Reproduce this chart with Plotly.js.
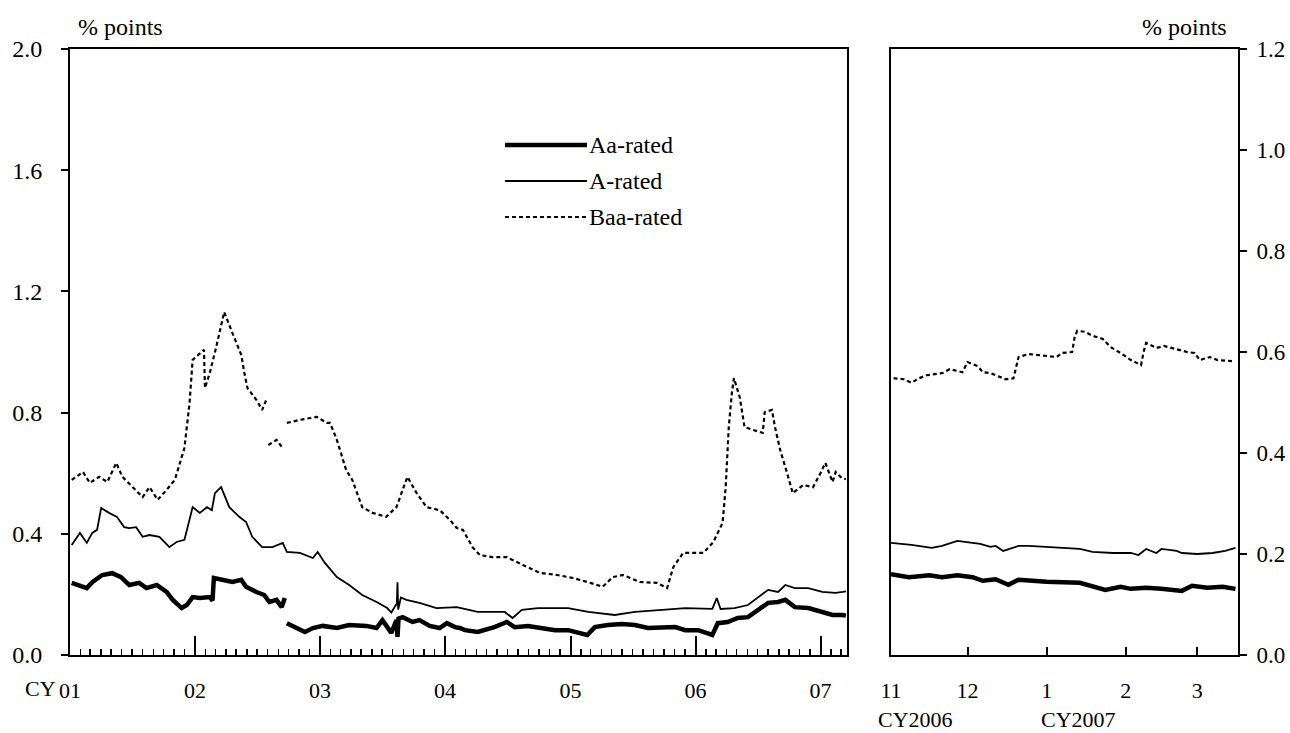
<!DOCTYPE html>
<html>
<head>
<meta charset="utf-8">
<script src="https://cdn.plot.ly/plotly-3.0.1.min.js"></script>
<style>html,body{margin:0;padding:0;background:#fff;}#chart{width:1290px;height:733px;}</style>
</head>
<body>
<div id="chart"></div>
<script>
// ---------------- DATA ----------------
const seriesNames = ["Aa-rated", "A-rated", "Baa-rated"];

// Left panel: CY2001 - March 2007 (% points)
const aaLeftDates = ['2001-01-06','2001-02-19','2001-03-07','2001-04-05','2001-05-04','2001-05-30','2001-06-23','2001-07-22','2001-08-12','2001-09-11','2001-10-10','2001-10-28','2001-11-23','2001-12-08','2001-12-25','2002-01-15','2002-02-13','2002-02-21','2002-02-25','2002-03-21','2002-04-20','2002-05-16','2002-05-30','2002-06-29','2002-07-22','2002-08-06','2002-08-27','2002-09-11','2002-09-20','2002-09-23','2002-09-26','2002-10-25','2002-11-18','2002-12-11','2003-01-09','2003-02-19','2003-03-27','2003-05-16','2003-06-15','2003-07-02','2003-07-28','2003-08-12','2003-08-15','2003-08-18','2003-08-30','2003-09-28','2003-10-18','2003-11-17','2003-12-16','2004-01-06','2004-01-30','2004-02-13','2004-02-28','2004-04-05','2004-05-24','2004-06-29','2004-07-22','2004-08-30','2004-10-10','2004-11-17','2004-12-25','2005-01-24','2005-02-19','2005-03-13','2005-04-20','2005-05-31','2005-07-08','2005-08-15','2005-09-26','2005-11-03','2005-12-02','2006-01-09','2006-02-19','2006-03-07','2006-04-05','2006-05-04','2006-06-03','2006-07-02','2006-08-01','2006-08-30','2006-09-20','2006-10-18','2006-11-26','2007-01-06','2007-02-05','2007-03-07','2007-03-16'];
const aaLeftVals  = [0.238,0.221,0.240,0.264,0.270,0.257,0.231,0.238,0.221,0.231,0.208,0.182,0.155,0.165,0.191,0.188,0.191,0.180,0.254,0.248,0.241,0.248,0.225,0.208,0.198,0.175,0.182,0.158,0.188,null,0.105,0.089,0.076,0.089,0.096,0.089,0.099,0.096,0.089,0.115,0.073,0.115,0.060,0.120,0.125,0.109,0.115,0.096,0.089,0.105,0.092,0.089,0.082,0.076,0.092,0.109,0.092,0.096,0.089,0.082,0.082,0.073,0.066,0.092,0.099,0.102,0.099,0.089,0.089,0.092,0.082,0.082,0.066,0.105,0.109,0.122,0.125,0.149,0.172,0.175,0.182,0.158,0.155,0.142,0.132,0.132,0.130];

const aLeftDates = ['2001-01-06','2001-01-30','2001-02-19','2001-03-07','2001-03-21','2001-04-02','2001-04-25','2001-05-18','2001-06-08','2001-06-23','2001-07-13','2001-08-01','2001-08-21','2001-09-19','2001-10-18','2001-11-08','2001-12-01','2001-12-10','2001-12-25','2002-01-15','2002-02-05','2002-02-19','2002-02-28','2002-03-18','2002-04-11','2002-05-10','2002-05-30','2002-06-17','2002-07-16','2002-08-15','2002-09-14','2002-09-26','2002-11-03','2002-12-11','2002-12-25','2003-01-15','2003-02-19','2003-03-27','2003-05-04','2003-06-15','2003-07-16','2003-07-28','2003-08-13','2003-08-15','2003-08-17','2003-08-25','2003-09-10','2003-10-18','2003-12-07','2004-02-04','2004-04-05','2004-06-23','2004-07-16','2004-08-12','2004-09-28','2004-12-25','2005-02-22','2005-05-10','2005-07-08','2005-09-26','2005-12-02','2006-02-19','2006-03-04','2006-03-15','2006-04-25','2006-06-03','2006-07-02','2006-08-01','2006-08-30','2006-09-20','2006-10-18','2006-11-26','2007-01-06','2007-02-14','2007-03-07','2007-03-16'];
const aLeftVals  = [0.363,0.403,0.370,0.403,0.413,0.485,0.469,0.456,0.422,0.419,0.422,0.390,0.396,0.390,0.356,0.373,0.380,0.422,0.488,0.469,0.488,0.478,0.534,0.554,0.488,0.456,0.439,0.390,0.356,0.356,0.370,0.340,0.337,0.320,0.340,0.304,0.257,0.231,0.198,0.175,0.155,0.140,0.170,0.240,0.150,0.190,0.182,0.172,0.155,0.158,0.142,0.142,0.122,0.149,0.155,0.155,0.142,0.132,0.142,0.149,0.155,0.152,0.188,0.152,0.155,0.165,0.191,0.215,0.208,0.231,0.221,0.221,0.208,0.205,0.208,0.210];

const baaLeftDates = ['2001-01-06','2001-02-08','2001-02-28','2001-03-27','2001-04-20','2001-05-16','2001-06-03','2001-07-02','2001-08-01','2001-08-21','2001-09-14','2001-10-10','2001-11-03','2001-12-01','2001-12-16','2001-12-25','2002-01-15','2002-01-27','2002-01-30','2002-02-13','2002-03-04','2002-03-27','2002-04-20','2002-05-16','2002-05-25','2002-06-03','2002-06-29','2002-07-16','2002-07-28','2002-07-31','2002-08-03','2002-08-27','2002-09-14','2002-09-20','2002-09-26','2002-11-03','2002-12-22','2003-01-21','2003-01-30','2003-02-19','2003-03-18','2003-04-05','2003-05-04','2003-06-03','2003-07-13','2003-08-12','2003-08-30','2003-09-13','2003-10-10','2003-11-08','2003-12-16','2004-01-15','2004-02-04','2004-02-22','2004-03-21','2004-04-11','2004-05-18','2004-06-29','2004-08-15','2004-10-04','2004-11-23','2005-01-09','2005-02-28','2005-04-05','2005-05-04','2005-06-03','2005-07-22','2005-09-11','2005-10-10','2005-10-28','2005-11-26','2005-12-25','2006-01-24','2006-02-22','2006-03-21','2006-03-30','2006-04-08','2006-04-17','2006-04-23','2006-05-10','2006-05-24','2006-06-17','2006-07-16','2006-07-22','2006-08-12','2006-08-21','2006-09-05','2006-09-25','2006-10-12','2006-11-11','2006-12-10','2007-01-01','2007-01-15','2007-02-05','2007-02-14','2007-03-04','2007-03-16'];
const baaLeftVals  = [0.578,0.604,0.568,0.588,0.571,0.634,0.588,0.554,0.521,0.554,0.512,0.545,0.578,0.683,0.832,0.974,0.997,1.007,0.881,0.931,1.017,1.132,1.063,0.990,0.931,0.881,0.842,0.809,0.842,null,0.693,0.710,0.683,null,0.766,0.776,0.786,0.766,0.766,0.710,0.611,0.578,0.488,0.469,0.456,0.488,0.545,0.588,0.534,0.488,0.478,0.446,0.419,0.413,0.356,0.330,0.323,0.323,0.297,0.271,0.264,0.254,0.238,0.225,0.257,0.264,0.241,0.238,0.221,0.290,0.337,0.337,0.337,0.373,0.436,0.554,0.752,0.865,0.914,0.851,0.752,0.743,0.733,0.802,0.809,0.752,0.677,0.601,0.534,0.561,0.554,0.601,0.634,0.571,0.604,0.584,0.580];

// Right panel: November 2006 - March 2007 (% points)
const aaRightDates = ['2006-11-01','2006-11-08','2006-11-16','2006-11-21','2006-11-27','2006-12-03','2006-12-07','2006-12-12','2006-12-17','2006-12-21','2007-01-01','2007-01-14','2007-01-24','2007-01-30','2007-02-03','2007-02-09','2007-02-15','2007-02-23','2007-02-27','2007-03-05','2007-03-11','2007-03-16'];
const aaRightVals  = [0.160,0.154,0.158,0.154,0.158,0.154,0.147,0.150,0.139,0.149,0.145,0.143,0.129,0.135,0.131,0.133,0.131,0.127,0.137,0.133,0.135,0.131];

const aRightDates = ['2006-11-01','2006-11-09','2006-11-17','2006-11-21','2006-11-27','2006-12-02','2006-12-06','2006-12-10','2006-12-12','2006-12-15','2006-12-21','2006-12-25','2007-01-05','2007-01-14','2007-01-19','2007-01-27','2007-02-03','2007-02-06','2007-02-09','2007-02-13','2007-02-15','2007-02-21','2007-02-23','2007-03-01','2007-03-07','2007-03-12','2007-03-16'];
const aRightVals  = [0.222,0.218,0.212,0.216,0.226,0.222,0.220,0.214,0.216,0.206,0.216,0.216,0.212,0.210,0.204,0.202,0.202,0.198,0.210,0.202,0.210,0.206,0.202,0.200,0.202,0.206,0.212];

const baaRightDates = ['2006-11-02','2006-11-06','2006-11-09','2006-11-12','2006-11-15','2006-11-21','2006-11-24','2006-11-29','2006-12-01','2006-12-05','2006-12-07','2006-12-10','2006-12-13','2006-12-16','2006-12-19','2006-12-20','2006-12-21','2006-12-25','2006-12-31','2007-01-05','2007-01-07','2007-01-11','2007-01-12','2007-01-13','2007-01-16','2007-01-19','2007-01-23','2007-01-26','2007-01-30','2007-02-03','2007-02-07','2007-02-08','2007-02-09','2007-02-13','2007-02-16','2007-02-20','2007-02-25','2007-02-28','2007-03-02','2007-03-06','2007-03-09','2007-03-15'];
const baaRightVals  = [0.548,0.546,0.539,0.548,0.554,0.558,0.566,0.560,0.580,0.572,0.560,0.558,0.552,0.546,0.548,0.568,0.590,0.596,0.592,0.590,0.598,0.600,0.630,0.642,0.640,0.632,0.626,0.610,0.598,0.584,0.574,0.600,0.618,0.608,0.612,0.606,0.600,0.598,0.584,0.590,0.584,0.582];

// Axis text
const leftTickFormat = '%y';
const rightTickFormat = '%-m';
const unitLabel = '% points';
const yearLabels = ['CY2006', 'CY2007'];

// ---------------- STYLES ----------------
const FONT = '"Liberation Serif"';
const FS = 24;
const styles = [
  {color: '#000', width: 4.5, dash: 'solid'},
  {color: '#000', width: 1.8, dash: 'solid'},
  {color: '#000', width: 2.2, dash: '4px,3px'}
];

function tr(x, y, i, xa, ya) {
  return {x: x, y: y, name: seriesNames[i], type: 'scatter', mode: 'lines',
          connectgaps: false, showlegend: false, xaxis: xa, yaxis: ya,
          line: Object.assign({}, styles[i]), hoverinfo: 'x+y+name'};
}

const data = [
  tr(baaLeftDates, baaLeftVals, 2, 'x', 'y'),
  tr(aLeftDates, aLeftVals, 1, 'x', 'y'),
  tr(aaLeftDates, aaLeftVals, 0, 'x', 'y'),
  tr(baaRightDates, baaRightVals, 2, 'x2', 'y2'),
  tr(aRightDates, aRightVals, 1, 'x2', 'y2'),
  tr(aaRightDates, aaRightVals, 0, 'x2', 'y2')
];

const txtFont = {family: FONT, size: FS, color: '#000'};
const xFont = {family: FONT, size: 22, color: '#000'};
const yRFont = {family: FONT, size: 23, color: '#000'};

// Legend drawn as sample lines + labels
const legX0 = 0.3724, legX1 = 0.4426, legYs = [0.8416, 0.7822, 0.7228];
const shapes = legYs.map((yy, i) => ({
  type: 'line', xref: 'paper', yref: 'paper', x0: legX0, x1: legX1, y0: yy, y1: yy,
  line: {color: styles[i].color, width: styles[i].width, dash: styles[i].dash}
}));
const annotations = legYs.map((yy, i) => ({
  xref: 'paper', yref: 'paper', x: legX1, y: yy, xanchor: 'left', yanchor: 'middle',
  text: seriesNames[i], showarrow: false, font: txtFont
}));
annotations.push(
  {xref: 'paper', yref: 'paper', x: 0.0055, y: 1.036, xanchor: 'left', yanchor: 'middle', text: unitLabel, showarrow: false, font: txtFont},
  {xref: 'paper', yref: 'paper', x: 0.9925, y: 1.036, xanchor: 'right', yanchor: 'middle', text: unitLabel, showarrow: false, font: txtFont},
  {xref: 'paper', yref: 'paper', x: -0.0115, y: -0.0545, xanchor: 'right', yanchor: 'middle', text: 'CY', showarrow: false, font: xFont, borderpad: 0},
  {xref: 'paper', yref: 'paper', x: 0.6905, y: -0.1285, xanchor: 'left', yanchor: 'bottom', text: yearLabels[0], showarrow: false, font: xFont, borderpad: 0},
  {xref: 'paper', yref: 'paper', x: 0.8308, y: -0.1285, xanchor: 'left', yanchor: 'bottom', text: yearLabels[1], showarrow: false, font: xFont, borderpad: 0}
);

const layout = {
  width: 1290, height: 733,
  margin: {l: 70, r: 52, t: 49, b: 78, pad: 0},
  paper_bgcolor: '#fff', plot_bgcolor: '#fff',
  font: txtFont,
  showlegend: false,
  xaxis: {
    domain: [0, 0.6652], type: 'date', range: ['2001-01-01', '2007-03-19'],
    tick0: '2001-01-01', dtick: 'M12', tickformat: leftTickFormat,
    ticks: 'inside', ticklen: 19, tickwidth: 2, tickcolor: '#000',
    minor: {ticks: 'inside', ticklen: 6, tickwidth: 1.5, tickcolor: '#000', dtick: 'M1', tick0: '2001-01-01', showgrid: false},
    showline: true, linecolor: '#000', linewidth: 2, mirror: true,
    showgrid: false, zeroline: false, tickfont: xFont, ticklabelstandoff: 15,
    anchor: 'y', fixedrange: true
  },
  yaxis: {
    domain: [0, 1], range: [0, 2.0], dtick: 0.4, tick0: 0, tickformat: '.1f',
    ticks: 'outside', ticklen: 7, tickwidth: 2, tickcolor: '#000',
    showline: true, linecolor: '#000', linewidth: 2, mirror: true,
    showgrid: false, zeroline: false, tickfont: txtFont, ticklabelstandoff: 14,
    anchor: 'x', fixedrange: true
  },
  xaxis2: {
    domain: [0.7029, 1], type: 'date', range: ['2006-11-01', '2007-03-17'],
    tick0: '2006-11-01', dtick: 'M1', tickformat: rightTickFormat,
    ticks: 'inside', ticklen: 8, tickwidth: 2, tickcolor: '#000',
    showline: true, linecolor: '#000', linewidth: 2, mirror: true,
    showgrid: false, zeroline: false, tickfont: xFont, ticklabelstandoff: 15,
    anchor: 'y2', fixedrange: true
  },
  yaxis2: {
    domain: [0, 1], range: [0, 1.2], dtick: 0.2, tick0: 0, tickformat: '.1f', side: 'right',
    ticks: 'outside', ticklen: 7, tickwidth: 2, tickcolor: '#000',
    showline: true, linecolor: '#000', linewidth: 2, mirror: true,
    showgrid: false, zeroline: false, tickfont: yRFont, ticklabelstandoff: 5,
    anchor: 'x2', fixedrange: true
  },
  shapes: shapes,
  annotations: annotations
};

Plotly.newPlot('chart', data, layout, {displayModeBar: false, staticPlot: true});
</script>
</body>
</html>
